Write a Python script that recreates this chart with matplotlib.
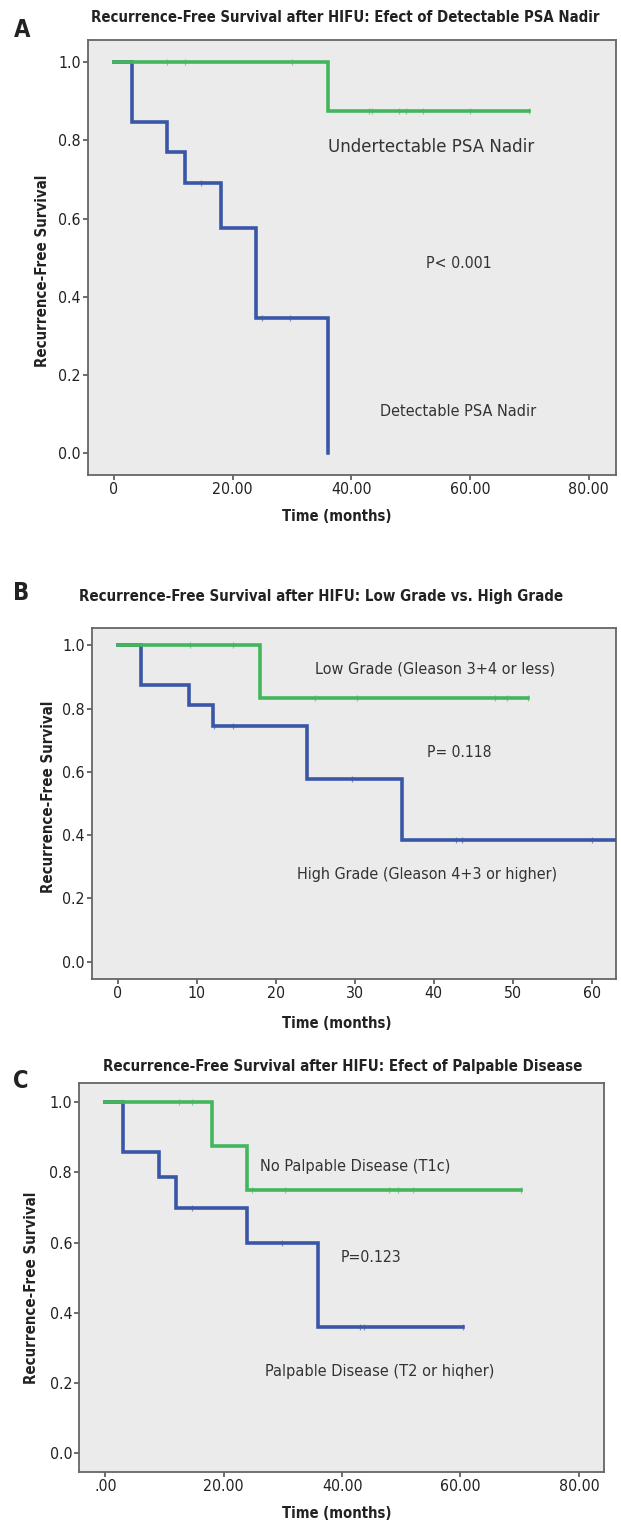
import numpy as np
import matplotlib
matplotlib.use("Agg")
import matplotlib.pyplot as plt
from matplotlib import font_manager as fm

W, H = 621, 1525
GREEN = "#43b65b"
BLUE = "#3a57a7"

# Panel A: detectable vs undetectable PSA nadir
a_und_time = [0, 36, 70]
a_und_surv = [1.0, 0.875, 0.875]
a_und_cens = [9, 12, 30, 43, 43.5, 48, 49.2, 52, 60, 70]
a_det_time = [0, 3, 9, 12, 18, 24, 36]
a_det_surv = [1.0, 0.846, 0.769, 0.692, 0.577, 0.346, 0.0]
a_det_cens = [14.6, 25, 29.6]

# Panel B: low vs high grade
b_low_time = [0, 18, 52]
b_low_surv = [1.0, 0.833, 0.833]
b_low_cens = [9.2, 14.6, 25, 30.3, 47.8, 49.3, 52]
b_high_time = [0, 3, 9, 12, 24, 36, 66]
b_high_surv = [1.0, 0.875, 0.8125, 0.745, 0.579, 0.386, 0.386]
b_high_cens = [12.2, 14.6, 29.7, 42.9, 43.6, 60.1]

# Panel C: palpable disease
c_no_time = [0, 18, 24, 70.2]
c_no_surv = [1.0, 0.875, 0.75, 0.75]
c_no_cens = [12.4, 14.7, 24.8, 30.4, 47.9, 49.4, 52, 70.2]
c_pal_time = [0, 3, 9, 12, 24, 36, 60.5]
c_pal_surv = [1.0, 0.857, 0.786, 0.699, 0.6, 0.36, 0.36]
c_pal_cens = [14.7, 29.9, 43.1, 43.7, 60.5]

y_ticks = [0.0, 0.2, 0.4, 0.6, 0.8, 1.0]
y_labels = ["0.0", "0.2", "0.4", "0.6", "0.8", "1.0"]
a_xticks = [0, 20, 40, 60, 80]
a_xlabels = ["0", "20.00", "40.00", "60.00", "80.00"]
b_xticks = [0, 10, 20, 30, 40, 50, 60]
b_xlabels = ["0", "10", "20", "30", "40", "50", "60"]
c_xticks = [0, 20, 40, 60, 80]
c_xlabels = [".00", "20.00", "40.00", "60.00", "80.00"]


def weight_num(w):
    if isinstance(w, str):
        return fm.weight_dict.get(w, 400)
    return int(w)


# the original uses a condensed sans; take a regular and a bold narrow face if present
def pick_faces():
    narrow = [f for f in fm.fontManager.ttflist
              if f.style == "normal" and ("Narrow" in f.name or "Condensed" in f.name
                                          or str(f.stretch) in ("condensed", "semi-condensed"))]
    if not narrow:
        return (fm.FontProperties(family="Liberation Sans"),
                fm.FontProperties(family="Liberation Sans", weight="bold"))
    reg = min(narrow, key=lambda f: abs(weight_num(f.weight) - 400))
    bold = min(narrow, key=lambda f: abs(weight_num(f.weight) - 700))
    return fm.FontProperties(fname=reg.fname), fm.FontProperties(fname=bold.fname)


FP_REG, FP_BOLD = pick_faces()

fig = plt.figure(figsize=(W / 100, H / 100), dpi=100)
renderer = fig.canvas.get_renderer()


def px_axes(l, t, r, b):
    return fig.add_axes([l / W, 1 - b / H, (r - l) / W, (b - t) / H])


def fit_text(x, y, s, target, fp, fs=14, **kw):
    # size the text so that it spans about as many pixels as in the original
    t = fig.text(x / W, 1 - y / H, s, fontproperties=fp, **kw)
    t.set_fontsize(fs)
    ext = t.get_window_extent(renderer)
    span = ext.height if kw.get("rotation") == 90 else ext.width
    t.set_fontsize(fs * target / span)
    return t


tmp = fig.text(0, 0, "20.00", fontproperties=FP_REG)
tmp.set_fontsize(10)
tick_fs = 10 * 41 / tmp.get_window_extent(renderer).width
tmp.remove()


def step_at(times, surv, t):
    i = np.searchsorted(times, t, side="right") - 1
    return np.asarray(surv)[i]


def km(ax, times, surv, cens, color):
    ax.plot(times, surv, drawstyle="steps-post", color=color, lw=2.6,
            solid_joinstyle="miter", zorder=3)
    cy = [step_at(times, surv, c) for c in cens]
    ax.plot(cens, cy, ls="none", marker="|", ms=5, mew=0.9,
            color=color, alpha=0.6, zorder=4)


def style(ax, xlim, xticks, xlabels):
    ax.set_facecolor("#ebebeb")
    ax.set_xlim(*xlim)
    ax.set_ylim(-0.055, 1.056)
    ax.set_xticks(xticks)
    ax.set_xticklabels(xlabels)
    ax.set_yticks(y_ticks)
    ax.set_yticklabels(y_labels)
    for s in ax.spines.values():
        s.set_color("#666666")
        s.set_linewidth(1.3)
    ax.tick_params(length=3.5, width=1.1, color="#444444", pad=1.5,
                   labelcolor="#222222")
    for lab in ax.get_xticklabels() + ax.get_yticklabels():
        lab.set_fontproperties(FP_REG)
        lab.set_fontsize(tick_fs)


BOLD = dict(color="#222222", va="center")
NOTE = dict(color="#333333", ha="left", va="center")


def letter(x, y, s):
    t = fig.text(x / W, 1 - y / H, s, fontproperties=FP_BOLD, ha="center", **BOLD)
    t.set_fontsize(17)


# ---- A ----
axA = px_axes(87.7, 40, 616, 475)
km(axA, a_det_time, a_det_surv, a_det_cens, BLUE)
km(axA, a_und_time, a_und_surv, a_und_cens, GREEN)
style(axA, (-4.43, 84.6), a_xticks, a_xlabels)
letter(22, 30, "A")
fit_text(345, 17, "Recurrence-Free Survival after HIFU: Efect of Detectable PSA Nadir", 509,
         FP_BOLD, ha="center", **BOLD)
fit_text(43, 271, "Recurrence-Free Survival", 193, FP_BOLD, rotation=90, ha="center", **BOLD)
fit_text(337, 517, "Time (months)", 110, FP_BOLD, ha="center", **BOLD)
fit_text(328, 147, "Undertectable PSA Nadir", 207, FP_REG, **NOTE)
fit_text(426, 264, "P< 0.001", 66, FP_REG, **NOTE)
fit_text(380, 411, "Detectable PSA Nadir", 157, FP_REG, **NOTE)

# ---- B ----
axB = px_axes(91.7, 627.7, 616, 979)
km(axB, b_high_time, b_high_surv, b_high_cens, BLUE)
km(axB, b_low_time, b_low_surv, b_low_cens, GREEN)
style(axB, (-3.3, 63.1), b_xticks, b_xlabels)
letter(21, 593, "B")
fit_text(321.5, 597, "Recurrence-Free Survival after HIFU: Low Grade vs. High Grade", 485,
         FP_BOLD, ha="center", **BOLD)
fit_text(48.3, 797, "Recurrence-Free Survival", 193, FP_BOLD, rotation=90, ha="center", **BOLD)
fit_text(337, 1023, "Time (months)", 110, FP_BOLD, ha="center", **BOLD)
fit_text(315, 669, "Low Grade (Gleason 3+4 or less)", 241, FP_REG, **NOTE)
fit_text(427, 752, "P= 0.118", 65, FP_REG, **NOTE)
fit_text(297, 875, "High Grade (Gleason 4+3 or higher)", 262, FP_REG, **NOTE)

# ---- C ----
axC = px_axes(79, 1082.7, 604.3, 1472.3)
km(axC, c_pal_time, c_pal_surv, c_pal_cens, BLUE)
km(axC, c_no_time, c_no_surv, c_no_cens, GREEN)
style(axC, (-4.44, 84.3), c_xticks, c_xlabels)
letter(21, 1080.5, "C")
fit_text(343, 1066.7, "Recurrence-Free Survival after HIFU: Efect of Palpable Disease", 479,
         FP_BOLD, ha="center", **BOLD)
fit_text(31.7, 1288, "Recurrence-Free Survival", 193, FP_BOLD, rotation=90, ha="center", **BOLD)
fit_text(337, 1514, "Time (months)", 110, FP_BOLD, ha="center", **BOLD)
fit_text(260, 1166.7, "No Palpable Disease (T1c)", 192, FP_REG, **NOTE)
fit_text(340.7, 1258, "P=0.123", 61, FP_REG, **NOTE)
fit_text(265, 1371.7, "Palpable Disease (T2 or hiqher)", 231, FP_REG, **NOTE)

fig.savefig("out.png", dpi=100)
